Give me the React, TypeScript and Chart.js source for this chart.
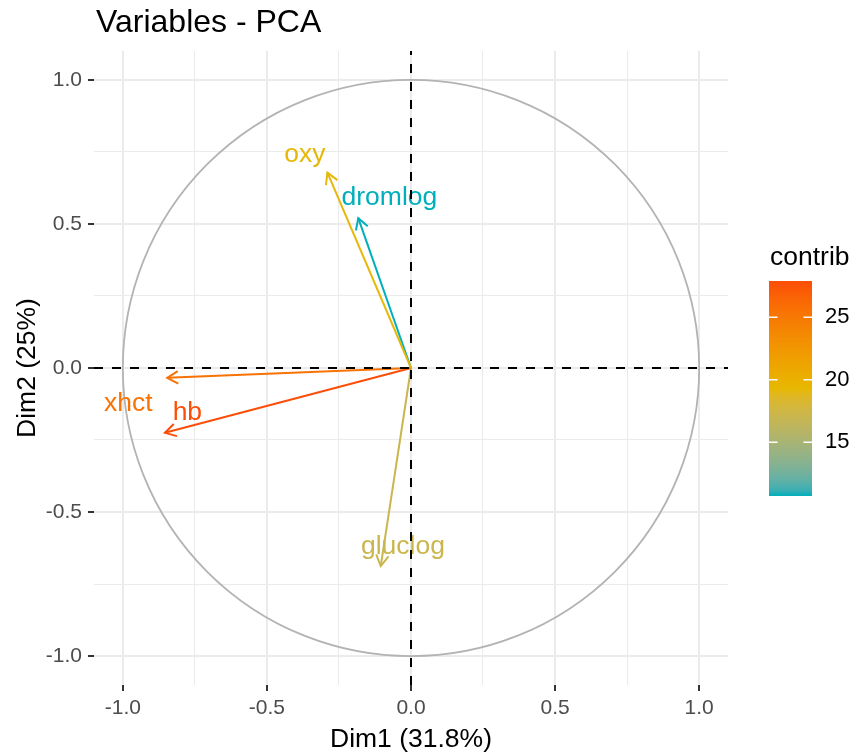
import React, { useEffect, useRef } from 'react';
import { Chart, registerables } from 'chart.js';

Chart.register(...registerables);

// ---- data ----
const variables = ['oxy', 'dromlog', 'xhct', 'hb', 'gluclog'];
const dim1 = [-0.29, -0.183, -0.846, -0.854, -0.105];
const dim2 = [0.678, 0.52, -0.034, -0.225, -0.6875];
const contrib = [19.2, 10.7, 25.4, 27.9, 17.1];
// repelled label anchor (centre of text, on its baseline)
const labelX = [-0.368, -0.075, -0.981, -0.776, -0.028];
const labelY = [0.715, 0.566, -0.149, -0.181, -0.646];
const gridValues = [-1, -0.75, -0.5, -0.25, 0, 0.25, 0.5, 0.75, 1];
const legendBreaks = [15, 20, 25];
const gradientColors = ['#00AFBB', '#E7B800', '#FC4E07'];
const titleText = 'Variables - PCA';
const xTitle = 'Dim1 (31.8%)';
const yTitle = 'Dim2 (25%)';
const legendTitle = 'contrib';

const FONT = '"Liberation Sans", Arial, sans-serif';

// ---- colour helpers (CIELAB interpolation like ggplot) ----
function hexToRgb(h: string): number[] {
  const n = parseInt(h.slice(1), 16);
  return [(n >> 16) & 255, (n >> 8) & 255, n & 255];
}
function toLin(c: number) {
  c /= 255;
  return c <= 0.04045 ? c / 12.92 : Math.pow((c + 0.055) / 1.055, 2.4);
}
function fromLin(c: number) {
  const v = c <= 0.0031308 ? 12.92 * c : 1.055 * Math.pow(c, 1 / 2.4) - 0.055;
  return Math.round(Math.max(0, Math.min(1, v)) * 255);
}
const XN = 0.95047, YN = 1, ZN = 1.08883;
function rgbToLab(rgb: number[]) {
  const R = toLin(rgb[0]), G = toLin(rgb[1]), B = toLin(rgb[2]);
  const X = (0.4124564 * R + 0.3575761 * G + 0.1804375 * B) / XN;
  const Y = (0.2126729 * R + 0.7151522 * G + 0.072175 * B) / YN;
  const Z = (0.0193339 * R + 0.119192 * G + 0.9503041 * B) / ZN;
  const f = (t: number) => (t > 0.008856 ? Math.cbrt(t) : 7.787 * t + 16 / 116);
  const fx = f(X), fy = f(Y), fz = f(Z);
  return [116 * fy - 16, 500 * (fx - fy), 200 * (fy - fz)];
}
function labToRgb(lab: number[]) {
  const fy = (lab[0] + 16) / 116;
  const fx = fy + lab[1] / 500;
  const fz = fy - lab[2] / 200;
  const inv = (t: number) => (t * t * t > 0.008856 ? t * t * t : (t - 16 / 116) / 7.787);
  const X = inv(fx) * XN, Y = inv(fy) * YN, Z = inv(fz) * ZN;
  const R = 3.2404542 * X - 1.5371385 * Y - 0.4985314 * Z;
  const G = -0.969266 * X + 1.8760108 * Y + 0.041556 * Z;
  const B = 0.0556434 * X - 0.2040259 * Y + 1.0572252 * Z;
  return [fromLin(R), fromLin(G), fromLin(B)];
}
const labStops = gradientColors.map((c) => rgbToLab(hexToRgb(c)));
const cMin = Math.min(...contrib);
const cMax = Math.max(...contrib);
function colorAt(t: number) {
  t = Math.max(0, Math.min(1, t));
  const seg = t < 0.5 ? 0 : 1;
  const u = seg === 0 ? t * 2 : (t - 0.5) * 2;
  const a = labStops[seg], b = labStops[seg + 1];
  const lab = [a[0] + (b[0] - a[0]) * u, a[1] + (b[1] - a[1]) * u, a[2] + (b[2] - a[2]) * u];
  const rgb = labToRgb(lab);
  return `rgb(${rgb[0]},${rgb[1]},${rgb[2]})`;
}
function colorForValue(v: number) {
  return colorAt((v - cMin) / (cMax - cMin));
}
const isMajor = (v: number) => Math.abs(v * 2 - Math.round(v * 2)) < 1e-9;

const pcaPlugin = {
  id: 'pcaDecor',
  beforeDatasetsDraw(chart: any) {
    const { ctx, scales } = chart;
    const x = scales.x, y = scales.y;
    const cx = x.getPixelForValue(0), cy = y.getPixelForValue(0);
    const r = x.getPixelForValue(1) - cx;
    ctx.save();
    ctx.strokeStyle = '#B3B3B3';
    ctx.lineWidth = 1.8;
    ctx.beginPath();
    ctx.arc(cx, cy, r, 0, Math.PI * 2);
    ctx.stroke();
    ctx.restore();
  },
  afterDatasetsDraw(chart: any) {
    const { ctx, scales, chartArea } = chart;
    const x = scales.x, y = scales.y;
    const ox = x.getPixelForValue(0), oy = y.getPixelForValue(0);
    ctx.save();
    // arrow heads
    variables.forEach((name, i) => {
      const col = colorForValue(contrib[i]);
      const tx = x.getPixelForValue(dim1[i]);
      const ty = y.getPixelForValue(dim2[i]);
      const ang = Math.atan2(ty - oy, tx - ox);
      const L = 12.5;
      const a1 = ang + Math.PI - Math.PI / 6;
      const a2 = ang + Math.PI + Math.PI / 6;
      ctx.strokeStyle = col;
      ctx.lineWidth = 2;
      ctx.lineJoin = 'miter';
      ctx.beginPath();
      ctx.moveTo(tx + L * Math.cos(a1), ty + L * Math.sin(a1));
      ctx.lineTo(tx, ty);
      ctx.lineTo(tx + L * Math.cos(a2), ty + L * Math.sin(a2));
      ctx.stroke();
    });
    // labels
    ctx.font = `26.5px ${FONT}`;
    ctx.textAlign = 'center';
    ctx.textBaseline = 'alphabetic';
    variables.forEach((name, i) => {
      ctx.fillStyle = colorForValue(contrib[i]);
      ctx.fillText(name, x.getPixelForValue(labelX[i]), y.getPixelForValue(labelY[i]));
    });
    // dashed axis lines at 0
    ctx.strokeStyle = '#000000';
    ctx.lineWidth = 2;
    ctx.setLineDash([9, 9]);
    ctx.beginPath();
    ctx.moveTo(chartArea.left, oy);
    ctx.lineTo(chartArea.right, oy);
    ctx.stroke();
    ctx.beginPath();
    ctx.moveTo(ox, chartArea.bottom);
    ctx.lineTo(ox, chartArea.top);
    ctx.stroke();
    ctx.restore();
  },
  afterDraw(chart: any) {
    const { ctx, chartArea } = chart;
    ctx.save();
    // main title
    ctx.fillStyle = '#000000';
    ctx.font = `32px ${FONT}`;
    ctx.textAlign = 'left';
    ctx.textBaseline = 'alphabetic';
    ctx.fillText(titleText, 96, 32);
    // axis titles
    ctx.font = `26.5px ${FONT}`;
    ctx.textAlign = 'center';
    ctx.fillText(xTitle, (chartArea.left + chartArea.right) / 2, 747);
    ctx.save();
    ctx.translate(35, (chartArea.top + chartArea.bottom) / 2);
    ctx.rotate(-Math.PI / 2);
    ctx.fillText(yTitle, 0, 0);
    ctx.restore();
    // legend
    ctx.textAlign = 'left';
    ctx.font = `26.5px ${FONT}`;
    ctx.fillText(legendTitle, 770, 265);
    const bx = 769, bw = 43, bTop = 281, bBot = 496;
    const grad = ctx.createLinearGradient(0, bBot, 0, bTop);
    for (let k = 0; k <= 40; k++) grad.addColorStop(k / 40, colorAt(k / 40));
    ctx.fillStyle = grad;
    ctx.fillRect(bx, bTop, bw, bBot - bTop);
    ctx.strokeStyle = '#FFFFFF';
    ctx.lineWidth = 1.5;
    ctx.font = `22px ${FONT}`;
    ctx.fillStyle = '#000000';
    ctx.textBaseline = 'middle';
    legendBreaks.forEach((b) => {
      const py = bBot - ((b - cMin) / (cMax - cMin)) * (bBot - bTop);
      ctx.beginPath();
      ctx.moveTo(bx, py);
      ctx.lineTo(bx + 8.5, py);
      ctx.moveTo(bx + bw - 8.5, py);
      ctx.lineTo(bx + bw, py);
      ctx.stroke();
      ctx.fillText(String(b), 825, py);
    });
    ctx.restore();
  },
};

function axisOptions(isX: boolean) {
  return {
    type: 'linear' as const,
    min: -1.1,
    max: 1.1,
    afterBuildTicks: (s: any) => {
      s.ticks = gridValues.map((v) => ({ value: v }));
    },
    afterFit: (s: any) => {
      if (isX) s.height = 70;
      else s.width = 94;
    },
    border: { display: false },
    grid: {
      color: '#EBEBEB',
      lineWidth: (c: any) => (c.tick && isMajor(c.tick.value) ? 2 : 1.1),
      drawTicks: true,
      tickLength: 6,
      tickWidth: 2,
      tickColor: (c: any) => (c.tick && isMajor(c.tick.value) ? '#333333' : 'rgba(0,0,0,0)'),
    },
    ticks: {
      autoSkip: false,
      maxRotation: 0,
      padding: isX ? 5 : 6,
      color: '#4D4D4D',
      font: { family: FONT, size: 21 },
      callback: (v: any) => (isMajor(Number(v)) ? Number(v).toFixed(1) : ''),
    },
  };
}

export default function App() {
  const ref = useRef<HTMLCanvasElement>(null);
  useEffect(() => {
    if (!ref.current) return;
    const chart = new Chart(ref.current, {
      type: 'scatter',
      data: {
        datasets: variables.map((name, i) => ({
          label: name,
          data: [
            { x: 0, y: 0 },
            { x: dim1[i], y: dim2[i] },
          ],
          showLine: true,
          borderColor: colorForValue(contrib[i]),
          backgroundColor: colorForValue(contrib[i]),
          borderWidth: 2,
          pointRadius: 0,
          pointHoverRadius: 0,
        })),
      },
      options: {
        animation: false,
        responsive: false,
        devicePixelRatio: 1,
        layout: { padding: { top: 51, right: 125, left: 0, bottom: 0 } },
        plugins: { legend: { display: false }, tooltip: { enabled: false } },
        scales: { x: axisOptions(true), y: axisOptions(false) },
      },
      plugins: [pcaPlugin],
    } as any);
    return () => chart.destroy();
  }, []);
  return (
    <div style={{ position: 'absolute', left: 0, top: 0, width: 853, height: 755, background: '#fff' }}>
      <canvas ref={ref} width={853} height={755} style={{ display: 'block' }} />
    </div>
  );
}
